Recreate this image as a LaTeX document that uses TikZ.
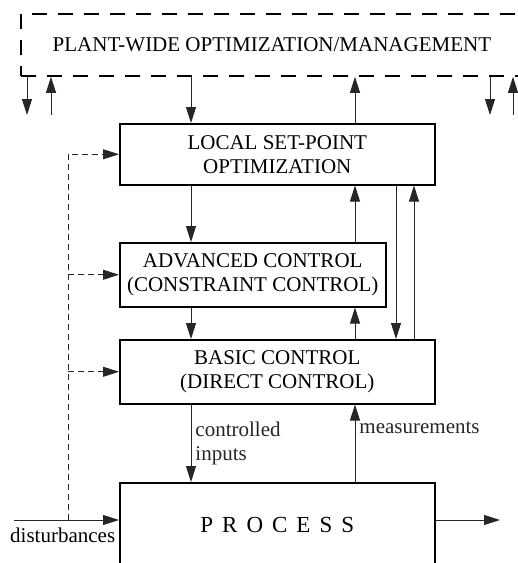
\documentclass[tikz,border=0pt]{standalone}
\usepackage{fontspec}
\setmainfont{Liberation Serif}
\usetikzlibrary{arrows.meta}
\begin{document}
\begin{tikzpicture}[x = 1pt, y = -1pt,
		box/.style = {draw, line width = 1.5pt, align = center, anchor = north west, inner sep = 0pt, font = \fontsize{21}{24}\selectfont},
		arr/.style = {-{Triangle[length = 16pt, width = 10pt]}, line width = .9pt, black!85},
		ffarr/.style = {arr, dash pattern = on 6pt off 4pt},
		lbl/.style = {font = \fontsize{21}{24}\selectfont, align = left, inner sep = 4pt}]
	\useasboundingbox (0,0) rectangle (518,563);
	\clip (0,0) rectangle (518,563);
	% boxes
	\node[box, dash pattern = on 15pt off 11pt, line width = 1.8pt, minimum width = 502pt, minimum height = 62pt] (plant) at (20,13) {PLANT-WIDE OPTIMIZATION/MANAGEMENT};
	\node[box, minimum width = 315pt, minimum height = 61pt] (lspo) at (119,123) {LOCAL SET-POINT\\OPTIMIZATION};
	\node[box, minimum width = 266pt, minimum height = 64pt] (adv) at (119,242) {ADVANCED CONTROL\\(CONSTRAINT CONTROL)};
	\node[box, minimum width = 315pt, minimum height = 64pt] (basic) at (119,339) {BASIC CONTROL\\(DIRECT CONTROL)};
	\node[box, minimum width = 315pt, minimum height = 84pt, font = \fontsize{23}{26}\selectfont] (proc) at (119,482) {\spaceskip = 9pt P R O C E S S};
	% columns of the vertical arrows
	\coordinate (cA) at (191,0);
	\coordinate (cB) at (355,0);
	\coordinate (cC) at (396,0);
	\coordinate (cD) at (414,0);
	\coordinate (lo1) at (27,115);
	\coordinate (lo2) at (51,115);
	\coordinate (ro1) at (490,115);
	\coordinate (ro2) at (513,115);
	\coordinate (ff) at (68,520);
	\coordinate (dist) at (14,520);
	\coordinate (out) at (500,520);
	% plant-wide level
	\draw[arr] (plant.south -| lo1)--(lo1);
	\draw[arr] (lo2)--(plant.south -| lo2);
	\draw[arr] (plant.south -| ro1)--(ro1);
	\draw[arr] (ro2)--(plant.south -| ro2);
	\draw[arr] (plant.south -| cA)--(lspo.north -| cA);
	\draw[arr] (lspo.north -| cB)--(plant.south -| cB);
	% control layers
	\draw[arr] (lspo.south -| cA)--(adv.north -| cA);
	\draw[arr] (adv.north -| cB)--(lspo.south -| cB);
	\draw[arr] (adv.south -| cA)--(basic.north -| cA);
	\draw[arr] (basic.north -| cB)--(adv.south -| cB);
	\draw[arr] (lspo.south -| cC)--(basic.north -| cC);
	\draw[arr] (basic.north -| cD)--(lspo.south -| cD);
	\draw[arr] (basic.south -| cA)--(proc.north -| cA) node[lbl, midway, right] (cin) {controlled\\inputs};
	\draw[arr] (proc.north -| cB)--(basic.south -| cB) node[lbl, pos = .7, right] (meas) {measurements};
	% disturbances
	\draw[arr] (dist)--(dist -| proc.west);
	\node[lbl, anchor = base west, inner sep = 0pt] (distlbl) at (10,542) {disturbances};
	\draw[ffarr] (ff) |- (lspo.west);
	\draw[ffarr] (ff |- adv.west)--(adv.west);
	\draw[ffarr] (ff |- basic.west)--(basic.west);
	\draw[arr] (out -| proc.east)--(out);
\end{tikzpicture}
\end{document}
